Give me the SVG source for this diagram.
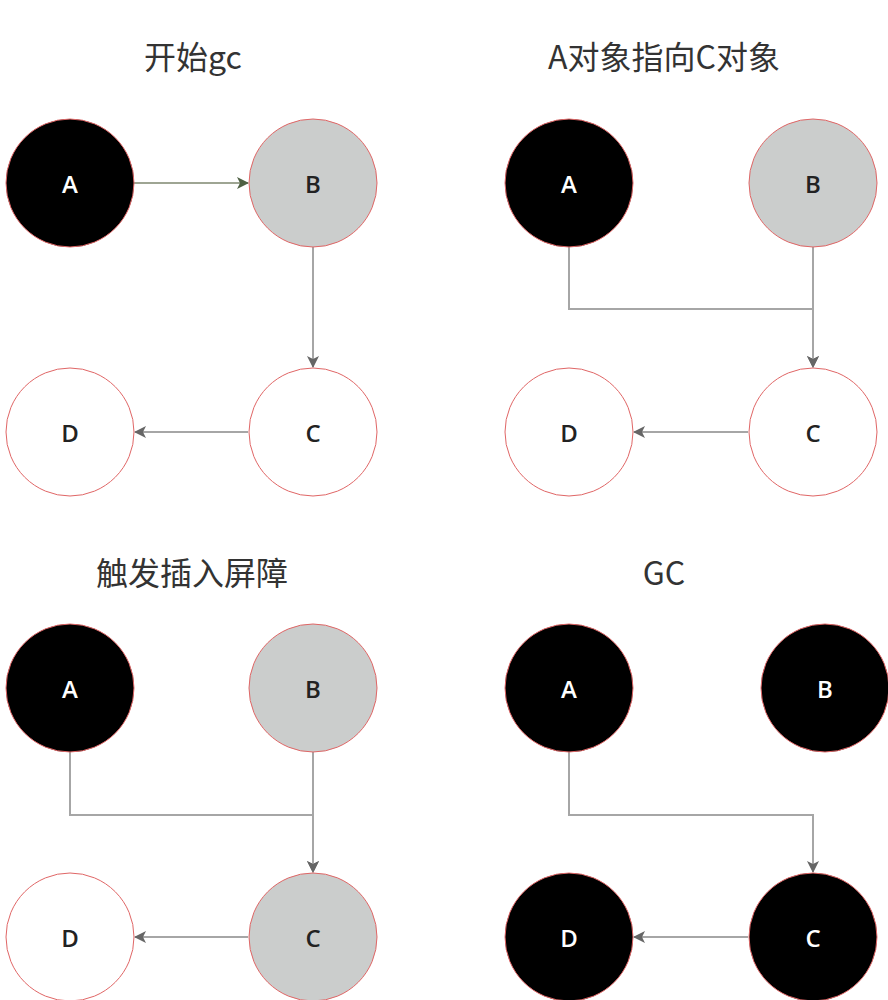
<svg xmlns="http://www.w3.org/2000/svg" width="888" height="1000" viewBox="0 0 888 1000">
<style>
.title{font-family:"Noto Sans CJK SC","Liberation Sans",sans-serif;font-size:32px;fill:#333;text-anchor:middle}
.lbl{font-family:"Open Sans","Liberation Sans",sans-serif;font-size:24px;font-weight:600;text-anchor:middle;dominant-baseline:central}
.blk{fill:#000;stroke:#e06666;stroke-width:1}
.gry{fill:#cbcdcc;stroke:#e06666;stroke-width:1}
.wht{fill:#fff;stroke:#e06666;stroke-width:1}
.tw{fill:#fff}
.td{fill:#222}
.e{fill:none;stroke:#a6a6a6;stroke-width:2}
.eg{fill:none;stroke:#9ea593;stroke-width:2}
</style>
<defs>
<marker id="ah" viewBox="0 0 12 12" refX="11" refY="6" markerWidth="12" markerHeight="12" markerUnits="userSpaceOnUse" orient="auto">
<path d="M0,0 L12,6 L0,12 L3,6 Z" fill="#666"/>
</marker>
<marker id="ahg" viewBox="0 0 12 12" refX="11" refY="6" markerWidth="12" markerHeight="12" markerUnits="userSpaceOnUse" orient="auto">
<path d="M0,0 L12,6 L0,12 L3,6 Z" fill="#4e6043"/>
</marker>
</defs>
<g id="titles">
<text class="title" x="193" y="69">开始gc</text>
<text class="title" x="664" y="69">A对象指向C对象</text>
<text class="title" x="192" y="585">触发插入屏障</text>
<text class="title" x="664" y="585">GC</text>
</g>
<g id="connectors">
<path class="eg" d="M134,183 L248,183" marker-end="url(#ahg)"/>
<path class="e" d="M313,247 L313,367" marker-end="url(#ah)"/>
<path class="e" d="M248,432 L135,432" marker-end="url(#ah)"/>
<path class="e" d="M569,247 L569,309 L813,309 L813,367" marker-end="url(#ah)"/>
<path class="e" d="M813,247 L813,367" marker-end="url(#ah)"/>
<path class="e" d="M748,432 L634,432" marker-end="url(#ah)"/>
<path class="e" d="M70,752 L70,815 L313,815 L313,872" marker-end="url(#ah)"/>
<path class="e" d="M313,752 L313,872" marker-end="url(#ah)"/>
<path class="e" d="M248,937 L135,937" marker-end="url(#ah)"/>
<path class="e" d="M569,752 L569,815 L813,815 L813,872" marker-end="url(#ah)"/>
<path class="e" d="M748,937 L634,937" marker-end="url(#ah)"/>
</g>
<g id="p1A"><circle class="blk" cx="70" cy="183" r="64"/><text class="lbl tw" x="70" y="183">A</text></g>
<g id="p1B"><circle class="gry" cx="313" cy="183" r="64"/><text class="lbl td" x="313" y="183">B</text></g>
<g id="p1C"><circle class="wht" cx="313" cy="432" r="64"/><text class="lbl td" x="313" y="432">C</text></g>
<g id="p1D"><circle class="wht" cx="70" cy="432" r="64"/><text class="lbl td" x="70" y="432">D</text></g>
<g id="p2A"><circle class="blk" cx="569" cy="183" r="64"/><text class="lbl tw" x="569" y="183">A</text></g>
<g id="p2B"><circle class="gry" cx="813" cy="183" r="64"/><text class="lbl td" x="813" y="183">B</text></g>
<g id="p2C"><circle class="wht" cx="813" cy="432" r="64"/><text class="lbl td" x="813" y="432">C</text></g>
<g id="p2D"><circle class="wht" cx="569" cy="432" r="64"/><text class="lbl td" x="569" y="432">D</text></g>
<g id="p3A"><circle class="blk" cx="70" cy="688" r="64"/><text class="lbl tw" x="70" y="688">A</text></g>
<g id="p3B"><circle class="gry" cx="313" cy="688" r="64"/><text class="lbl td" x="313" y="688">B</text></g>
<g id="p3C"><circle class="gry" cx="313" cy="937" r="64"/><text class="lbl td" x="313" y="937">C</text></g>
<g id="p3D"><circle class="wht" cx="70" cy="937" r="64"/><text class="lbl td" x="70" y="937">D</text></g>
<g id="p4A"><circle class="blk" cx="569" cy="688" r="64"/><text class="lbl tw" x="569" y="688">A</text></g>
<g id="p4B"><circle class="blk" cx="825" cy="688" r="64"/><text class="lbl tw" x="825" y="688">B</text></g>
<g id="p4C"><circle class="blk" cx="813" cy="937" r="64"/><text class="lbl tw" x="813" y="937">C</text></g>
<g id="p4D"><circle class="blk" cx="569" cy="937" r="64"/><text class="lbl tw" x="569" y="937">D</text></g>
</svg>
